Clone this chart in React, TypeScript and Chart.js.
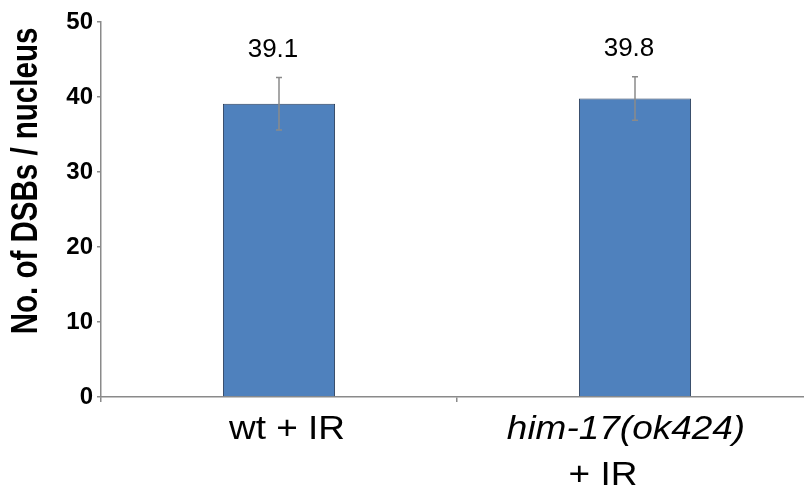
import React, { useEffect, useRef } from "react";
import { Chart, registerables } from "chart.js";

Chart.register(...registerables);

const categories = ["wt + IR", "him-17(ok424) + IR"];
const labelLines: string[][] = [["wt + IR"], ["him-17(ok424)", "+ IR"]];
const labelItalic: boolean[][] = [[false], [true, false]];
const means = [39.1, 39.8];
const errors = [3.5, 2.9];
const yTicks = [0, 10, 20, 30, 40, 50];
const yTitle = "No. of DSBs / nucleus";

const FONT = "'Liberation Sans', Arial, Helvetica, sans-serif";
// small horizontal nudges of label lines relative to the bar centre (layout only)
const labelNudge: number[][] = [[8], [-9, -32]];

const overlay = {
  id: "overlay",
  afterDatasetsDraw(chart: any) {
    const ctx = chart.ctx;
    const xs = chart.scales.x;
    const ys = chart.scales.y;
    const meta = chart.getDatasetMeta(0);
    ctx.save();
    // error bars + value labels
    means.forEach((v, i) => {
      const bar = meta.data[i];
      const x = bar.x;
      const yTop = ys.getPixelForValue(v + errors[i]);
      const yBot = ys.getPixelForValue(v - errors[i]);
      ctx.strokeStyle = "#8a8a8a";
      ctx.lineWidth = 1.5;
      ctx.beginPath();
      ctx.moveTo(x, yTop);
      ctx.lineTo(x, yBot);
      ctx.moveTo(x - 3, yTop);
      ctx.lineTo(x + 3, yTop);
      ctx.moveTo(x - 3, yBot);
      ctx.lineTo(x + 3, yBot);
      ctx.stroke();
      ctx.fillStyle = "#000";
      ctx.font = `26px ${FONT}`;
      ctx.textAlign = "center";
      ctx.textBaseline = "alphabetic";
      ctx.fillText(v.toFixed(1), x - 6, yTop - 21);
    });
    // x labels
    labelLines.forEach((lines, i) => {
      const x = xs.getPixelForValue(i);
      lines.forEach((line, j) => {
        ctx.save();
        ctx.translate(x + labelNudge[i][j], 439 + j * 46);
        ctx.scale(1.12, 1);
        ctx.font = `${labelItalic[i][j] ? "italic " : ""}33px ${FONT}`;
        ctx.fillStyle = "#000";
        ctx.textAlign = "center";
        ctx.textBaseline = "alphabetic";
        ctx.fillText(line, 0, 0);
        ctx.restore();
      });
    });
    // y title
    ctx.translate(27, 181);
    ctx.rotate(-Math.PI / 2);
    ctx.scale(0.82, 1);
    ctx.font = `bold 36px ${FONT}`;
    ctx.textAlign = "center";
    ctx.textBaseline = "middle";
    ctx.fillStyle = "#000";
    ctx.fillText(yTitle, 0, 0);
    ctx.restore();
  },
};

export default function App() {
  const ref = useRef<HTMLCanvasElement>(null);
  useEffect(() => {
    if (!ref.current) return;
    const chart = new Chart(ref.current, {
      type: "bar",
      data: {
        labels: categories,
        datasets: [
          {
            data: means,
            backgroundColor: "#4f81bd",
            borderColor: "#2b3f5c",
            borderWidth: 1,
            categoryPercentage: 1,
            barPercentage: 0.315,
          },
        ],
      },
      options: {
        animation: false,
        responsive: false,
        maintainAspectRatio: false,
        layout: { padding: { top: 22, left: 0, right: 0, bottom: 0 } },
        plugins: { legend: { display: false }, tooltip: { enabled: false } },
        scales: {
          x: {
            offset: true,
            grid: {
              offset: true,
              drawOnChartArea: false,
              drawTicks: true,
              tickLength: 5,
              color: "#8a8a8a",
              lineWidth: 1.5,
            },
            border: { color: "#8a8a8a", width: 1.5 },
            ticks: { display: false },
            afterFit: (s: any) => {
              s.height = 96;
            },
          },
          y: {
            min: 0,
            max: 50,
            afterBuildTicks: (s: any) => {
              s.ticks = yTicks.map((v) => ({ value: v }));
            },
            ticks: {
              color: "#000",
              font: { family: FONT, size: 24, weight: "bold" },
              padding: 4,
            },
            grid: {
              drawOnChartArea: false,
              drawTicks: true,
              tickLength: 4,
              color: "#8a8a8a",
              lineWidth: 1.5,
            },
            border: { color: "#8a8a8a", width: 1.5 },
            afterFit: (s: any) => {
              s.width = 101;
            },
          },
        },
      },
      plugins: [overlay],
    });
    return () => chart.destroy();
  }, []);
  return (
    <div
      style={{
        position: "absolute",
        left: 0,
        top: 0,
        width: 804,
        height: 493,
        overflow: "hidden",
        background: "#fff",
      }}
    >
      <canvas ref={ref} width={813} height={493} style={{ width: 813, height: 493, display: "block" }} />
    </div>
  );
}
